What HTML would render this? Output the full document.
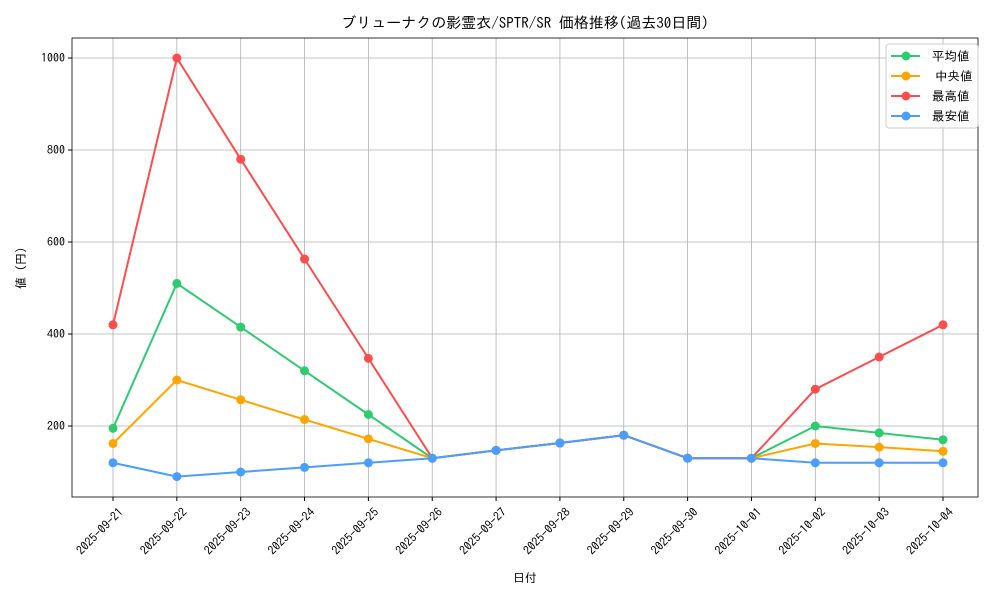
<!DOCTYPE html>
<html><head><meta charset="utf-8"><style>body{margin:0;background:#fff}svg{display:block}text{font-family:"IPAGothic","Noto Sans CJK JP",sans-serif;fill:#000}</style></head>
<body><svg id="s" width="1000" height="600" xmlns="http://www.w3.org/2000/svg"></svg>
<script>
const s=document.getElementById('s');let h='';
const L=72,R=978,T=38,B=497;
const X=i=>113+i*63.846, Y=v=>426-(v-200)*0.46;
const dates=['2025-09-21','2025-09-22','2025-09-23','2025-09-24','2025-09-25','2025-09-26','2025-09-27','2025-09-28','2025-09-29','2025-09-30','2025-10-01','2025-10-02','2025-10-03','2025-10-04'];
for(let i=0;i<14;i++){const x=X(i);h+=`<line x1="${x}" y1="${T}" x2="${x}" y2="${B}" stroke="#b0b0b0" stroke-width="0.8"/><line x1="${x}" y1="${B}" x2="${x}" y2="${B+4}" stroke="#000"/>`;
h+=`<text transform="translate(${x+5},${B+10}) rotate(-45)" text-anchor="end" font-size="12" dy="0.7em">${dates[i]}</text>`;}
for(const v of [200,400,600,800,1000]){const y=Y(v);h+=`<line x1="${L}" y1="${y}" x2="${R}" y2="${y}" stroke="#b0b0b0" stroke-width="0.8"/><line x1="${L-4}" y1="${y}" x2="${L}" y2="${y}" stroke="#000"/><text x="${L-7}" y="${y+4}" text-anchor="end" font-size="12">${v}</text>`;}
h+=`<rect x="${L}" y="${T}" width="${R-L}" height="${B-T}" fill="none" stroke="#000" stroke-width="0.8"/>`;
const series=[
['#2ecc71',[195,510,415,320,225,130,147,163,180,130,130,200,185,170]],
['#ffa500',[162,300,257,214,172,130,147,163,180,130,130,162,154,145]],
['#ff4d4d',[420,1000,780,563,347,130,147,163,180,130,130,280,350,420]],
['#4a9eff',[120,90,100,110,120,130,147,163,180,130,130,120,120,120]]];
for(const [c,d] of series){h+=`<polyline fill="none" stroke="${c}" stroke-width="2" points="${d.map((v,i)=>X(i)+','+Y(v)).join(' ')}"/>`;
d.forEach((v,i)=>h+=`<circle cx="${X(i)}" cy="${Y(v)}" r="4.5" fill="${c}"/>`);}
h+=`<text x="525" y="28" text-anchor="middle" font-size="15">ブリューナクの影霊衣/SPTR/SR 価格推移(過去30日間)</text>`;
h+=`<text x="525" y="582" text-anchor="middle" font-size="12">日付</text>`;
h+=`<text transform="translate(25,268) rotate(-90)" text-anchor="middle" font-size="12">値 (円)</text>`;
h+=`<rect x="886" y="44" width="92" height="84" rx="3" fill="#fff" fill-opacity="0.8" stroke="#ccc"/>`;
const names=['平均値','中央値','最高値','最安値'];
series.forEach(([c],i)=>{const y=56+i*20;h+=`<line x1="891" y1="${y}" x2="920" y2="${y}" stroke="${c}" stroke-width="2"/><circle cx="906" cy="${y}" r="4.5" fill="${c}"/><text x="${i==1?935:932}" y="${y+4.5}" font-size="12.5">${names[i]}</text>`;});
s.innerHTML=h;
</script></body></html>
